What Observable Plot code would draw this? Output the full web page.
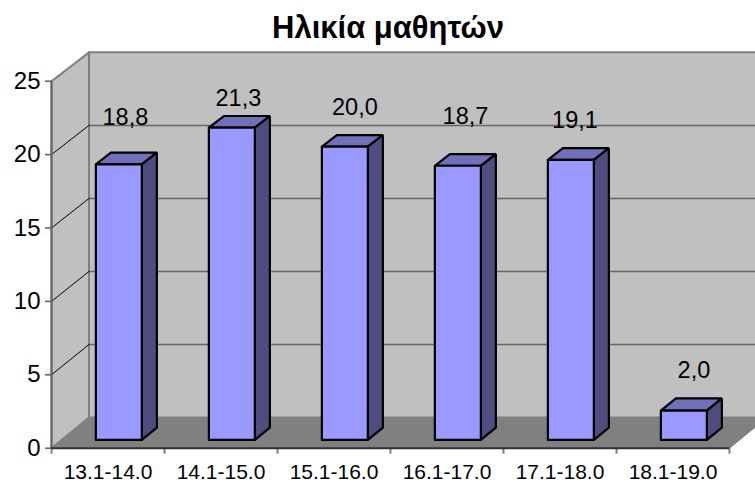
<!DOCTYPE html>
<html>
<head>
<meta charset="utf-8">
<script src="https://cdn.jsdelivr.net/npm/d3@7"></script>
<script src="https://cdn.jsdelivr.net/npm/@observablehq/plot@0.6"></script>
<style>
  html, body { margin: 0; padding: 0; background: #fff; overflow: hidden; }
  #title { height: 44px; text-align: center; font: bold 31px/56px "Liberation Sans", Arial, sans-serif; color: #000; width: 776px; white-space: nowrap; }
  #chart svg { display: block; overflow: hidden; }
</style>
</head>
<body>
<div id="title">Ηλικία μαθητών</div>
<div id="chart"></div>
<script>
const categories = ["13.1-14.0", "14.1-15.0", "15.1-16.0", "16.1-17.0", "17.1-18.0", "18.1-19.0"];
const values = [18.8, 21.3, 20.0, 18.7, 19.1, 2.0];
const valueLabels = ["18,8", "21,3", "20,0", "18,7", "19,1", "2,0"];
const yTicks = [0, 5, 10, 15, 20, 25];

// Oblique depth of the 3-D box, in scale units (per unit of depth 0..1)
const depthX = 0.332, depthY = 2.09, depthShrink = 0.005;
const barLeft = 0.303, barWidth = 0.407, barNear = 0.27, barFar = 0.67;
// Where each value label floats relative to its bar (scale units)
const labelShiftX = [0.058, 0.058, 0.089, 0.067, 0.036, 0.089];
const labelLiftY = [2.66, 1.42, 2.10, 2.84, 2.14, 2.19];

const P = (cat, val, d = 0) => ({x: cat + d * depthX, y: val * (1 - d * depthShrink) + d * depthY});
const poly = (id, pts) => [...pts, pts[0]].map(p => ({...p, id}));

const backWall = poly("b", [P(0,0,1), P(6,0,1), P(6,25,1), P(0,25,1)]);
const sideWall = poly("s", [P(0,0,0), P(0,0,1), P(0,25,1), P(0,25,0)]);
const floor = poly("f", [P(0,0,0), P(6,0,0), P(6,0,1), P(0,0,1)]);
const backGrid = yTicks.slice(1, -1).flatMap(v => [P(0,v,1), P(6,v,1)].map(p => ({...p, id: v})));
const sideGrid = yTicks.slice(1, -1).flatMap(v => [P(0,v,0), P(0,v,1)].map(p => ({...p, id: v})));

const fronts = values.flatMap((v, i) => {
  const a = i + barLeft, b = a + barWidth;
  return poly(i, [P(a,0,barNear), P(b,0,barNear), P(b,v,barNear), P(a,v,barNear)]);
});
const tops = values.flatMap((v, i) => {
  const a = i + barLeft, b = a + barWidth;
  return poly(i, [P(a,v,barNear), P(b,v,barNear), P(b,v,barFar), P(a,v,barFar)]);
});
const sides = values.flatMap((v, i) => {
  const b = i + barLeft + barWidth;
  return poly(i, [P(b,0,barNear), P(b,0,barFar), P(b,v,barFar), P(b,v,barNear)]);
});
const labels = values.map((v, i) => ({
  x: i + barLeft + barWidth / 2 + barNear * depthX + labelShiftX[i],
  y: v + barNear * depthY + labelLiftY[i],
  t: valueLabels[i]
}));

const font = '"Liberation Sans", Arial, sans-serif';
const gray = "#808080";
const line = (data, o) => Plot.line(data, {x: "x", y: "y", z: "id", curve: "linear", ...o});

const chart = Plot.plot({
  width: 755,
  height: 439,
  marginLeft: 51,
  marginRight: 26,
  marginTop: 36.7,
  marginBottom: 35.3,
  style: {fontFamily: font, background: "#fff", color: "#000"},
  x: {type: "linear", domain: [0, 6]},
  y: {type: "linear", domain: [0, 25]},
  marks: [
    line(sideWall, {fill: "#c0c0c0", stroke: gray, strokeWidth: 2}),
    line(backWall, {fill: "#c0c0c0", stroke: gray, strokeWidth: 2}),
    line(backGrid, {stroke: "#666", strokeWidth: 1.5}),
    line(sideGrid, {stroke: "#000", strokeWidth: 1}),
    line(floor, {fill: gray, stroke: gray, strokeWidth: 1}),
    Plot.ruleX([0], {y1: 0, y2: 25, stroke: "#666", strokeWidth: 2}),
    Plot.axisY({ticks: yTicks, tickSize: 6, tickPadding: 5, fontSize: 24, stroke: "#606060", strokeWidth: 1.5, label: null, tickFormat: d => String(d)}),
    Plot.axisX({ticks: d3.range(0, 7), tickSize: 6, tickFormat: () => "", stroke: gray, strokeWidth: 2, label: null}),
    Plot.ruleY([0], {x1: 0, x2: 6, stroke: "#303030", strokeWidth: 2}),
    Plot.axisX({ticks: categories.map((c, i) => i + 0.5), tickSize: 0, tickPadding: 16, fontSize: 21, label: null, tickFormat: d => categories[d - 0.5]}),
    line(tops, {fill: "#7070bb", stroke: "#000", strokeWidth: 2.2, strokeLinejoin: "miter"}),
    line(sides, {fill: "#4d4d80", stroke: "#000", strokeWidth: 2.2, strokeLinejoin: "miter"}),
    line(fronts, {fill: "#9999ff", stroke: "#000", strokeWidth: 2.2, strokeLinejoin: "miter"}),
    Plot.text(labels, {x: "x", y: "y", text: "t", fontSize: 23.5, fill: "#000", lineAnchor: "bottom"})
  ]
});
document.getElementById("chart").appendChild(chart);
</script>
</body>
</html>
